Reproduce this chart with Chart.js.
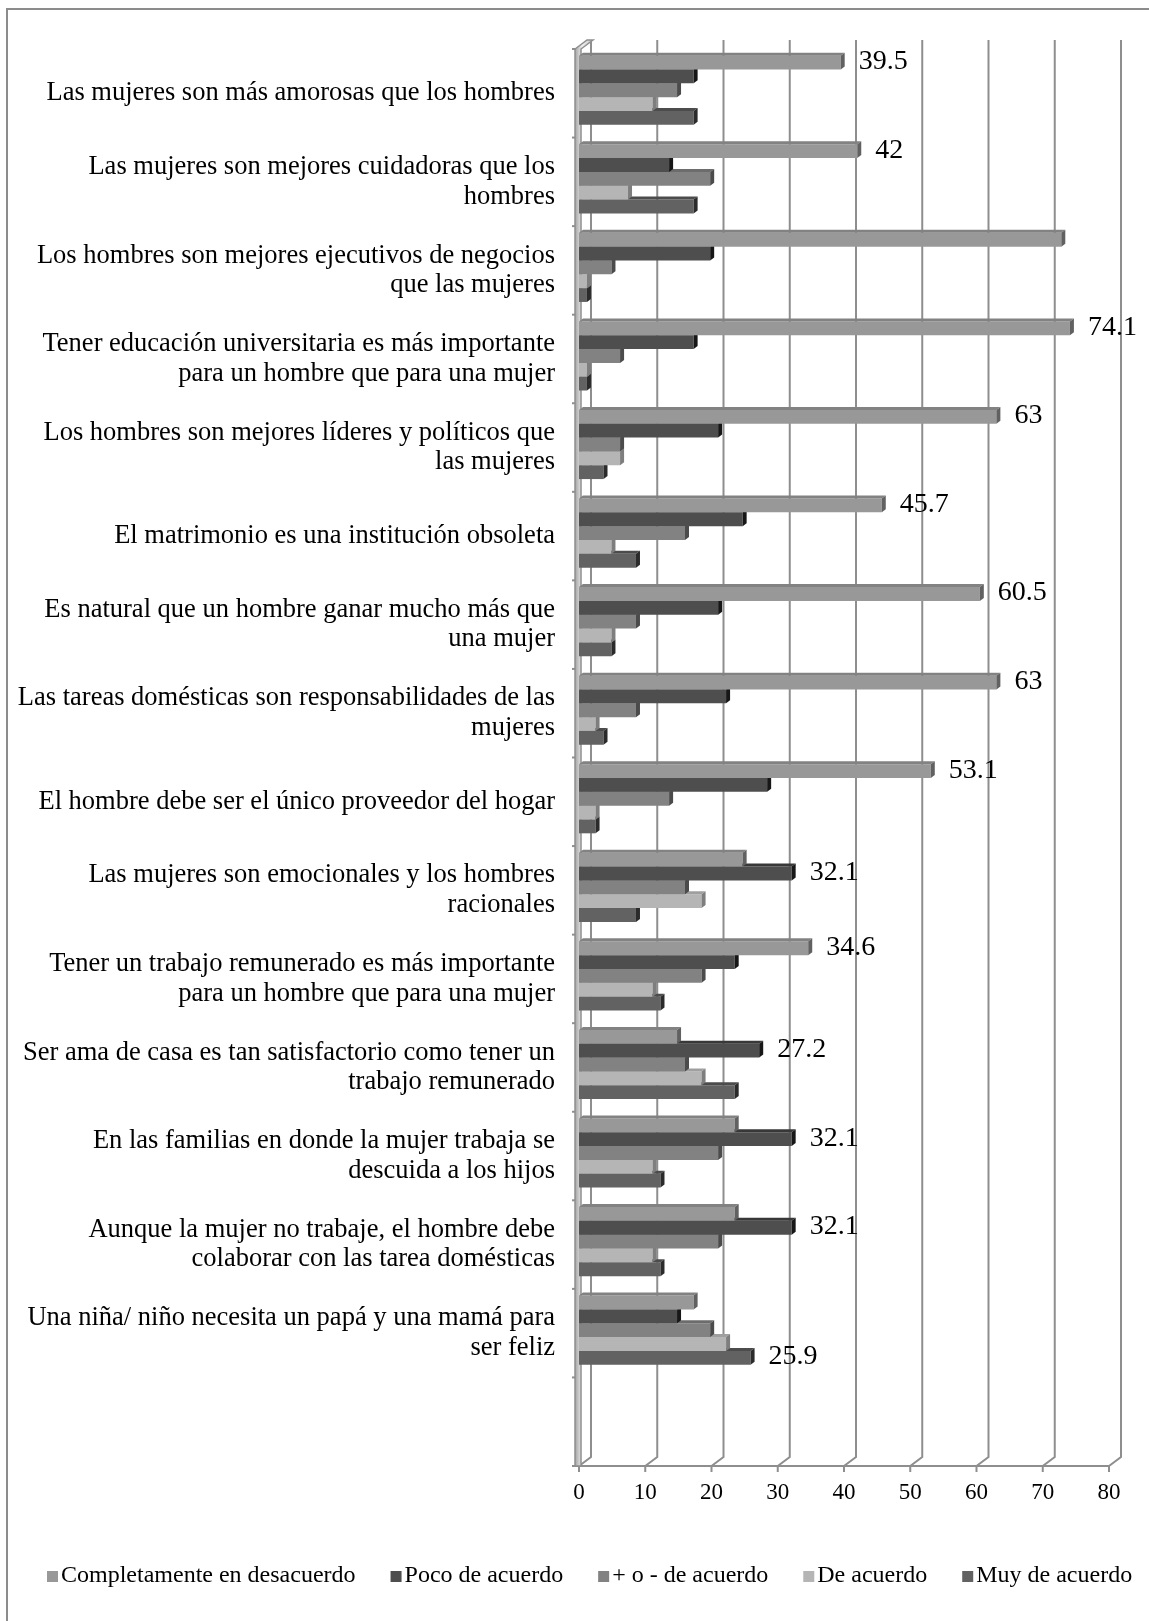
<!DOCTYPE html>
<html>
<head>
<meta charset="utf-8">
<script src="https://cdn.jsdelivr.net/npm/chart.js@4"></script>
<style>
  html, body { margin: 0; padding: 0; background: #fff; }
  canvas { display: block; }
</style>
</head>
<body>
<canvas id="chart" width="1149" height="1621"></canvas>
<script>
// Categories (last one is the empty slot at the bottom of the original chart)
const categories = [
    'Las mujeres son más amorosas que los hombres',
    ['Las mujeres son mejores cuidadoras que los', 'hombres'],
    ['Los hombres son mejores ejecutivos de negocios', 'que las mujeres'],
    ['Tener educación universitaria es más importante', 'para un hombre que para una mujer'],
    ['Los hombres son mejores líderes y políticos que', 'las mujeres'],
    'El matrimonio es una institución obsoleta',
    ['Es natural que un hombre ganar mucho más que', 'una mujer'],
    ['Las tareas domésticas son responsabilidades de las', 'mujeres'],
    'El hombre debe ser el único proveedor del hogar',
    ['Las mujeres son emocionales y los hombres', 'racionales'],
    ['Tener un trabajo remunerado es más importante', 'para un hombre que para una mujer'],
    ['Ser ama de casa es tan satisfactorio como tener un', 'trabajo remunerado'],
    ['En las familias en donde la mujer trabaja se', 'descuida a los hijos'],
    ['Aunque la mujer no trabaje, el hombre debe', 'colaborar con las tarea domésticas'],
    ['Una niña/ niño necesita un papá y una mamá para', 'ser feliz'],
    ''
];

const seriesNames = ['Completamente en desacuerdo', 'Poco de acuerdo', '+ o - de acuerdo', 'De acuerdo', 'Muy de acuerdo'];

const completamente = [39.5, 42, 72.8, 74.1, 63, 45.7, 60.5, 63, 53.1, 24.7, 34.6, 14.8, 23.5, 23.5, 17.3, null];
const poco          = [17.3, 13.6, 19.8, 17.3, 21.0, 24.7, 21.0, 22.2, 28.4, 32.1, 23.5, 27.2, 32.1, 32.1, 14.8, null];
const masMenos      = [14.8, 19.8, 4.9, 6.2, 6.2, 16.0, 8.6, 8.6, 13.6, 16.0, 18.5, 16.0, 21.0, 21.0, 19.8, null];
const deAcuerdo     = [11.1, 7.4, 1.2, 1.2, 6.2, 4.9, 4.9, 2.5, 2.5, 18.5, 11.1, 18.5, 11.1, 11.1, 22.2, null];
const muyDeAcuerdo  = [17.3, 17.3, 1.2, 1.2, 3.7, 8.6, 4.9, 3.7, 2.5, 8.6, 12.3, 23.5, 12.3, 12.3, 25.9, null];

// which series carries the value label in each category (null = none)
const labelledSeries = [0, 0, null, 0, 0, 0, 0, 0, 0, 1, 0, 1, 1, 1, 4, null];

// value axis
const axisMin = 0;
const axisMax = 80;
const axisStep = 10;

const seriesColors = ['#989898', '#4e4e4e', '#828282', '#b5b5b5', '#626262'];
const FONT = "'Liberation Serif', 'Times New Roman', serif";

const DEPTH_X = 12, DEPTH_Y = 9;   // wall depth
const BEV_X = 4, BEV_Y = 3;        // bar bevel
const SHIFT = 3;                   // wall ticks / labels sit a bit below the bar groups

function shade(hex, amt) {
    const n = parseInt(hex.slice(1), 16);
    const c = [(n >> 16) & 255, (n >> 8) & 255, n & 255].map(v => Math.max(0, Math.min(255, v + amt)));
    return `rgb(${c[0]},${c[1]},${c[2]})`;
}

const decor = {
    id: 'decor',
    beforeDatasetsDraw(chart) {
        const ctx = chart.ctx;
        const xs = chart.scales.x;
        const area = chart.chartArea;
        const top = area.top + SHIFT;
        const floor = area.bottom + SHIFT;
        const x0 = xs.getPixelForValue(0);
        ctx.save();

        // outer frame
        ctx.strokeStyle = '#8c8c8c';
        ctx.lineWidth = 2;
        ctx.beginPath();
        ctx.moveTo(7, 1621);
        ctx.lineTo(7, 9);
        ctx.lineTo(1149, 9);
        ctx.stroke();

        // back wall gridlines + floor diagonals
        ctx.strokeStyle = '#8e8e8e';
        ctx.lineWidth = 2;
        for (let v = axisMin; v <= axisMax; v += axisStep) {
            const px = xs.getPixelForValue(v);
            ctx.beginPath();
            ctx.moveTo(px + DEPTH_X, top - DEPTH_Y);
            ctx.lineTo(px + DEPTH_X, floor - DEPTH_Y);
            ctx.lineTo(px, floor);
            ctx.stroke();
            // tick below the floor
            ctx.beginPath();
            ctx.moveTo(px, floor);
            ctx.lineTo(px, floor + 6);
            ctx.stroke();
        }

        // front floor edge
        ctx.beginPath();
        ctx.moveTo(x0 - 7, floor);
        ctx.lineTo(xs.getPixelForValue(axisMax), floor);
        ctx.stroke();

        // left wall
        const wl = x0 - 4, wr = x0 + 2;
        const grad = ctx.createLinearGradient(wl, 0, wr + DEPTH_X, 0);
        grad.addColorStop(0, '#a4a4a4');
        grad.addColorStop(0.4, '#eeeeee');
        grad.addColorStop(1, '#c4c4c4');
        ctx.fillStyle = grad;
        ctx.beginPath();
        ctx.moveTo(wl, floor);
        ctx.lineTo(wl, top);
        ctx.lineTo(wl + DEPTH_X, top - DEPTH_Y);
        ctx.lineTo(wr + DEPTH_X, top - DEPTH_Y);
        ctx.lineTo(wr, top);
        ctx.lineTo(wr, floor);
        ctx.closePath();
        ctx.fill();
        ctx.strokeStyle = '#8e8e8e';
        ctx.lineWidth = 1.5;
        ctx.stroke();

        // category ticks on the wall
        const band = (area.bottom - area.top) / categories.length;
        ctx.lineWidth = 2;
        for (let i = 0; i <= categories.length; i++) {
            const y = area.top + i * band + SHIFT;
            ctx.beginPath();
            ctx.moveTo(x0 - 7, y);
            ctx.lineTo(wl, y);
            ctx.stroke();
        }
        ctx.restore();
    },
    afterDatasetDraw(chart, args) {
        const ctx = chart.ctx;
        const color = seriesColors[args.index];
        const values = chart.data.datasets[args.index].data;
        ctx.save();
        args.meta.data.forEach((el, i) => {
            if (values[i] == null) return;
            const p = el.getProps(['x', 'y', 'base', 'height'], true);
            const t = p.y - p.height / 2, b = p.y + p.height / 2;
            // top face
            ctx.fillStyle = shade(color, -22);
            ctx.beginPath();
            ctx.moveTo(p.base, t);
            ctx.lineTo(p.base + BEV_X, t - BEV_Y);
            ctx.lineTo(p.x + BEV_X, t - BEV_Y);
            ctx.lineTo(p.x, t);
            ctx.closePath();
            ctx.fill();
            // side face
            ctx.fillStyle = shade(color, -55);
            ctx.beginPath();
            ctx.moveTo(p.x, t);
            ctx.lineTo(p.x + BEV_X, t - BEV_Y);
            ctx.lineTo(p.x + BEV_X, b - BEV_Y);
            ctx.lineTo(p.x, b);
            ctx.closePath();
            ctx.fill();
        });
        ctx.restore();
    },
    afterDraw(chart) {
        const ctx = chart.ctx;
        ctx.save();
        // value labels
        ctx.fillStyle = '#000';
        ctx.font = `28px ${FONT}`;
        ctx.textAlign = 'left';
        ctx.textBaseline = 'middle';
        labelledSeries.forEach((s, i) => {
            if (s == null) return;
            const el = chart.getDatasetMeta(s).data[i];
            const p = el.getProps(['x', 'y'], true);
            ctx.fillText(String(chart.data.datasets[s].data[i]), p.x + 18, p.y - 1);
        });

        // legend
        ctx.font = `24px ${FONT}`;
        let x = 47;
        const y = 1576;
        seriesNames.forEach((name, i) => {
            ctx.fillStyle = seriesColors[i];
            ctx.fillRect(x, y - 5, 11, 11);
            ctx.fillStyle = '#000';
            ctx.fillText(name, x + 14, y);
            x += 14 + ctx.measureText(name).width + 35;
        });
        ctx.restore();
    }
};

const seriesValues = [completamente, poco, masMenos, deAcuerdo, muyDeAcuerdo];

new Chart(document.getElementById('chart'), {
    type: 'bar',
    data: {
        labels: categories,
        datasets: seriesValues.map((vals, i) => ({
            label: seriesNames[i],
            data: vals,
            backgroundColor: seriesColors[i],
            borderWidth: 0,
            categoryPercentage: 0.78,
            barPercentage: 1.0
        }))
    },
    options: {
        indexAxis: 'y',
        responsive: false,
        animation: false,
        layout: { padding: { left: 0, top: 46, right: 40, bottom: 98 } },
        plugins: {
            legend: { display: false },
            tooltip: { enabled: false }
        },
        scales: {
            x: {
                min: axisMin,
                max: axisMax,
                grid: { display: false },
                border: { display: false },
                ticks: {
                    stepSize: axisStep,
                    padding: 8,
                    color: '#000',
                    font: { family: FONT, size: 23 }
                },
                afterFit(axis) { axis.height = 60; }
            },
            y: {
                grid: { display: false, drawTicks: false },
                border: { display: false },
                ticks: {
                    padding: 24,
                    labelOffset: SHIFT,
                    color: '#000',
                    autoSkip: false,
                    font: { family: FONT, size: 26.5, lineHeight: 1.12 }
                },
                afterFit(axis) { axis.width = 579; }
            }
        }
    },
    plugins: [decor]
});
</script>
</body>
</html>
